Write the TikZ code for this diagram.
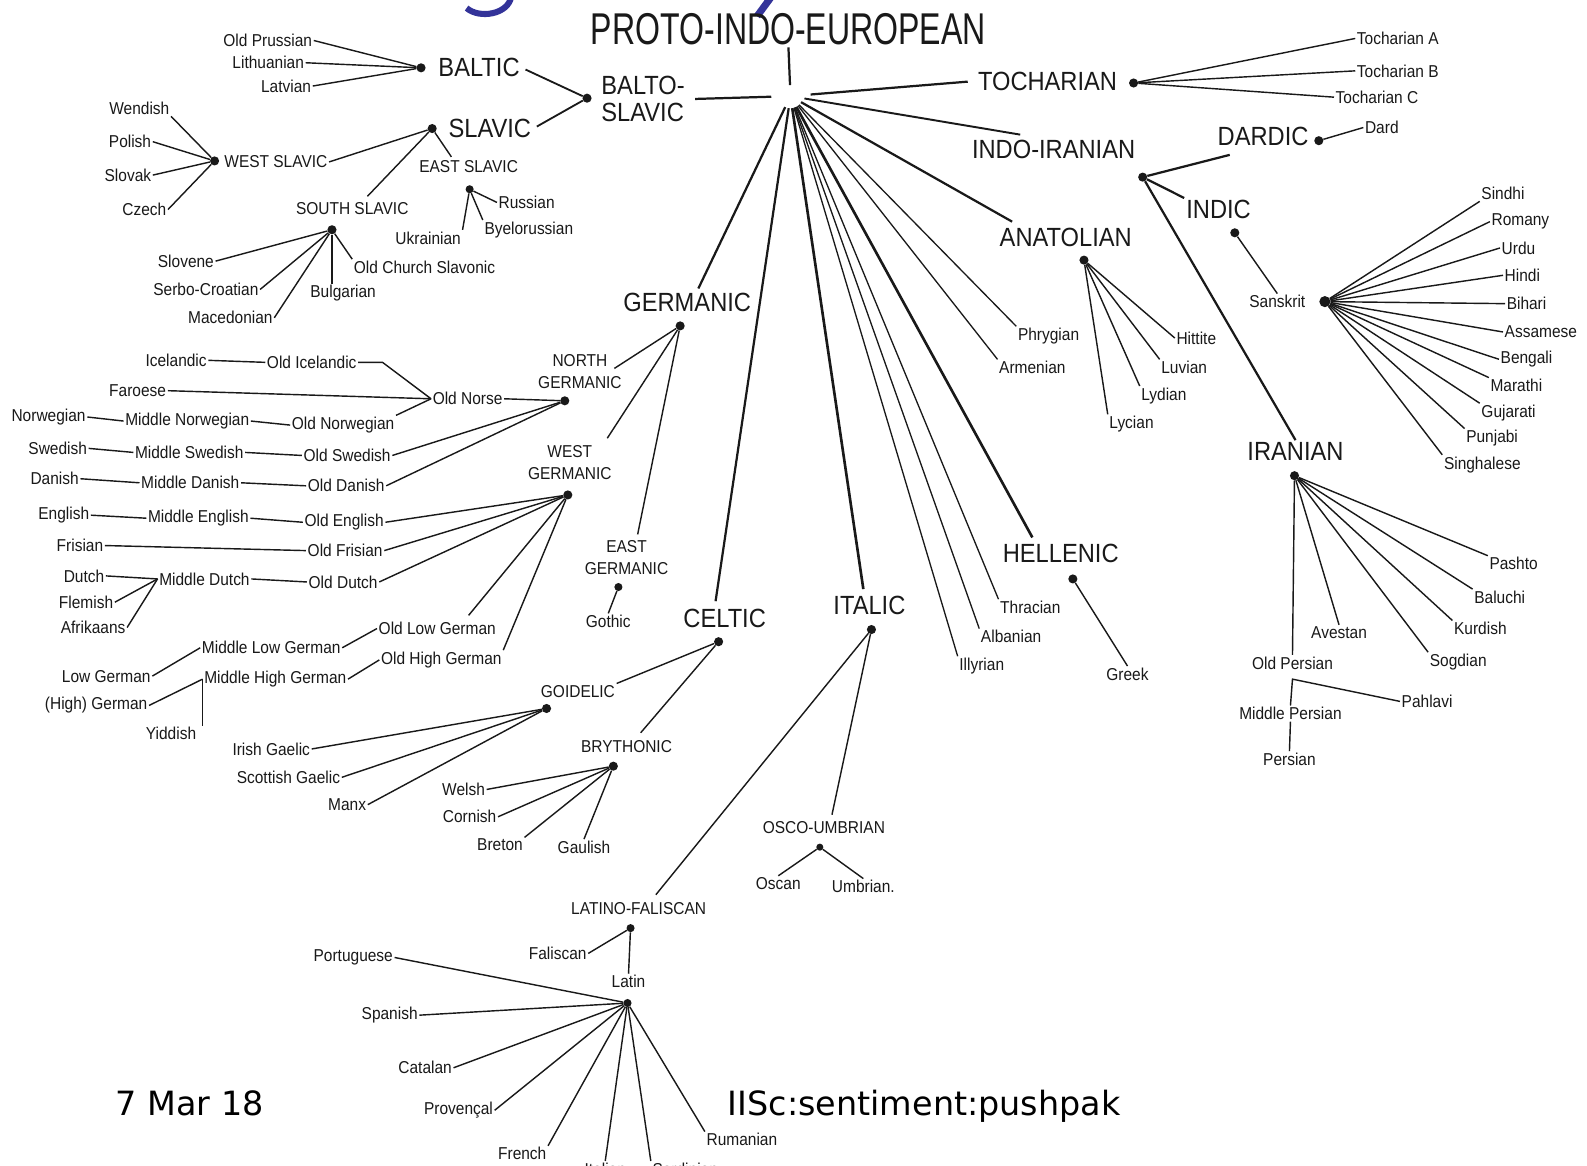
\documentclass[tikz,border=0pt]{standalone}
\usepackage{fontspec}
\newfontfamily\labfont[FakeStretch=0.9]{Liberation Sans}
\newfontfamily\piefont[FakeStretch=0.72]{Liberation Sans}
\newfontfamily\footfont{DejaVu Sans}
\usetikzlibrary{calc}
\definecolor{titleblue}{RGB}{51,51,153}
\definecolor{ink}{RGB}{25,25,25}
\tikzset{
 lab/.style={font=\labfont\fontsize{17}{21}\selectfont, inner sep=1.5pt, text=ink, align=center},
 big/.style={font=\labfont\fontsize{26}{27}\selectfont, inner sep=2pt, text=ink, align=left},
 piestyle/.style={font=\piefont\fontsize{44}{44}\selectfont, inner sep=2pt, text=ink},
 footstyle/.style={font=\footfont\fontsize{33}{33}\selectfont, inner sep=0pt, text=black},
 dot/.style={circle, fill=ink, inner sep=0pt, minimum size=9pt},
 edge/.style={draw=ink, line width=1.4pt},
 spoke/.style={draw=ink, line width=2.2pt},
 minor/.style={draw=ink, line width=1.3pt},
}
\begin{document}
\begin{tikzpicture}[x=1pt,y=-1pt]
\useasboundingbox (0,0) rectangle (1568,1152);
\fill[white] (0,0) rectangle (1568,1152);

% fragments of the slide title
\draw[titleblue, line width=6pt] (505,-3) .. controls (502,14) and (474,19) .. (461,8);
\draw[titleblue, line width=7pt] (762,-3) -- (748,16);

% ---------- root ----------
\node[piestyle] (pie) at (779,29) {PROTO-INDO-EUROPEAN};
\coordinate (C) at (781,95);
\draw[spoke, shorten >=11pt] (pie.south) -- (C);

% ---------- Balto-Slavic ----------
\node[big, anchor=west] (baltoL) at (592,98) {BALTO-\\SLAVIC};
\draw[spoke, shorten <=8pt, shorten >=19pt] (baltoL.east) -- (C);
\node[dot] (balto) at (580,97) {};
\node[big, anchor=west] (balticL) at (431,67) {BALTIC};
\node[dot] (baltic) at (416,67) {};
\node[big, anchor=west] (slavicL) at (441,127) {SLAVIC};
\node[dot] (slavic) at (427,127) {};
\draw[edge, line width=1.8pt, shorten <=4pt] (balticL.east) -- (balto);
\draw[edge, line width=1.8pt, shorten <=4pt] (slavicL.east) -- (balto);

\node[lab, anchor=east] (oprus) at (310,40) {Old Prussian};
\node[lab, anchor=east] (lith) at (302,62) {Lithuanian};
\node[lab, anchor=east] (latv) at (309,85) {Latvian};
\draw[edge] (oprus.east) -- (baltic);
\draw[edge] (lith.east) -- (baltic);
\draw[edge] (latv.east) -- (baltic);

\node[dot] (wslav) at (212,159) {};
\node[lab, anchor=west] (wslavL) at (220,160) {WEST SLAVIC};
\draw[edge] (wslavL.east) -- (slavic);
\node[lab, anchor=east] (wendish) at (169,107) {Wendish};
\node[lab, anchor=east] (polish) at (151,140) {Polish};
\node[lab, anchor=east] (slovak) at (151,173) {Slovak};
\node[lab, anchor=east] (czech) at (166,207) {Czech};
\draw[edge] (wendish.south east) -- (wslav);
\draw[edge] (polish.east) -- (wslav);
\draw[edge] (slovak.east) -- (wslav);
\draw[edge] (czech.east) -- (wslav);

\node[lab] (eslavL) at (463,165) {EAST SLAVIC};
\coordinate (esTop) at (446,155);
\draw[edge] (slavic) -- (esTop);
\node[dot, minimum size=8pt] (eslav) at (464,187) {};
\node[lab, anchor=west] (russian) at (491,200) {Russian};
\node[lab] (ukrainian) at (423,235) {Ukrainian};
\node[lab, anchor=west] (byelo) at (477,227) {Byelorussian};
\draw[edge] (russian.west) -- (eslav);
\draw[edge] (ukrainian.north east) -- (eslav);
\draw[edge] (byelo.north west) -- (eslav);

\node[lab] (sslavL) at (348,206) {SOUTH SLAVIC};
\coordinate (ssTop) at (363,194);
\draw[edge] (slavic) -- (ssTop);
\node[dot] (sslav) at (328,227) {};
\node[lab, anchor=east] (slovene) at (213,258) {Slovene};
\node[lab, anchor=east] (serbo) at (257,286) {Serbo-Croatian};
\node[lab, anchor=east] (maced) at (271,314) {Macedonian};
\node[lab, anchor=west] (bulgarian) at (305,290) {Bulgarian};
\node[lab, anchor=west] (ocs) at (348,264) {Old Church Slavonic};
\draw[edge] (slovene.east) -- (sslav);
\draw[edge] (serbo.east) -- (sslav);
\draw[edge] (maced.east) -- (sslav);
\draw[edge] (sslav) -- (sslav |- bulgarian.north);
\draw[edge] (ocs.north west) -- (sslav);

% ---------- Germanic ----------
\coordinate (gTop) at (690,285);
\draw[spoke, shorten <=12pt] (C) -- (gTop);
\node[big] (germL) at (679,299) {GERMANIC};
\node[dot] (germ) at (672,322) {};
\node[lab] (ngL) at (573,367) {NORTH\\GERMANIC};
\coordinate (ngTop) at (607,364);
\draw[edge] (ngTop) -- (germ);
\node[dot] (ng) at (558,396) {};
\node[lab] (wgL) at (563,457) {WEST\\GERMANIC};
\coordinate (wgTop) at (600,433);
\draw[edge] (wgTop) -- (germ);
\node[dot] (wg) at (561,489) {};
\node[lab] (egL) at (619,551) {EAST\\GERMANIC};
\coordinate (egTop) at (630,528);
\draw[edge] (egTop) -- (germ);
\node[dot, minimum size=8pt] (eg) at (611,580) {};
\node[lab] (gothic) at (601,614) {Gothic};
\draw[edge] (gothic.north) -- (eg);

\node[lab] (icelandic) at (174,356) {Icelandic};
\node[lab] (oldicel) at (308,358) {Old Icelandic};
\node[lab] (oldnorse) at (462,394) {Old Norse};
\draw[edge] (icelandic.east) -- (oldicel.west);
\draw[edge] (oldicel.east) -- ++(24,0) -- (oldnorse.west);
\node[lab] (faroese) at (136,386) {Faroese};
\draw[edge] (faroese.east) -- (oldnorse.west);
\node[lab] (norwegian) at (48,412) {Norwegian};
\node[lab] (midnorw) at (185,416) {Middle Norwegian};
\node[lab] (oldnorw) at (339,420) {Old Norwegian};
\draw[edge] (norwegian.east) -- (midnorw.west);
\draw[edge] (midnorw.east) -- (oldnorw.west);
\draw[edge] (oldnorw.north east) -- (oldnorse.west);
\draw[edge] (oldnorse.east) -- (ng);
\node[lab] (swedish) at (57,443) {Swedish};
\node[lab] (midswed) at (187,447) {Middle Swedish};
\node[lab] (oldswed) at (343,450) {Old Swedish};
\draw[edge] (swedish.east) -- (midswed.west);
\draw[edge] (midswed.east) -- (oldswed.west);
\draw[edge] (oldswed.east) -- (ng);
\node[lab] (danish) at (54,473) {Danish};
\node[lab] (middan) at (188,477) {Middle Danish};
\node[lab] (olddan) at (342,480) {Old Danish};
\draw[edge] (danish.east) -- (middan.west);
\draw[edge] (middan.east) -- (olddan.west);
\draw[edge] (olddan.east) -- (ng);

\node[lab] (english) at (63,509) {English};
\node[lab] (midengl) at (196,512) {Middle English};
\node[lab] (oldengl) at (340,516) {Old English};
\draw[edge] (english.east) -- (midengl.west);
\draw[edge] (midengl.east) -- (oldengl.west);
\draw[edge] (oldengl.east) -- (wg);
\node[lab] (frisian) at (79,539) {Frisian};
\node[lab] (oldfris) at (341,544) {Old Frisian};
\draw[edge] (frisian.east) -- (oldfris.west);
\draw[edge] (oldfris.east) -- (wg);
\node[lab] (dutch) at (83,569) {Dutch};
\node[lab] (middutch) at (202,572) {Middle Dutch};
\node[lab] (olddutch) at (339,575) {Old Dutch};
\node[lab] (flemish) at (85,595) {Flemish};
\node[lab] (afrikaans) at (92,620) {Afrikaans};
\draw[edge] (dutch.east) -- (middutch.west);
\draw[edge] (flemish.east) -- (middutch.west);
\draw[edge] (afrikaans.east) -- (middutch.west);
\draw[edge] (middutch.east) -- (olddutch.west);
\draw[edge] (olddutch.east) -- (wg);

\node[lab] (oldlowg) at (432,621) {Old Low German};
\node[lab] (oldhighg) at (436,652) {Old High German};
\node[lab] (midlowg) at (268,640) {Middle Low German};
\node[lab] (midhighg) at (272,671) {Middle High German};
\node[lab] (lowg) at (105,668) {Low German};
\node[lab] (highg) at (95,697) {(High) German};
\node[lab] (yiddish) at (169,725) {Yiddish};
\coordinate (olgTop) at (463,608);
\draw[edge] (wg) -- (olgTop);
\draw[edge] (wg) -- (oldhighg.north east);
\draw[edge] (midlowg.east) -- (oldlowg.west);
\draw[edge] (midhighg.east) -- (oldhighg.west);
\draw[edge] (lowg.east) -- (midlowg.west);
\draw[edge] (highg.east) -- (midhighg.west);
\draw[edge] (midhighg.west) -- (midhighg.west |- yiddish.north);

% ---------- Celtic ----------
\coordinate (cTop) at (707,594);
\draw[spoke, shorten <=12pt] (C) -- (cTop);
\node[big] (celticL) at (716,611) {CELTIC};
\node[dot] (celt) at (710,634) {};
\node[lab] (goidL) at (571,683) {GOIDELIC};
\draw[edge] (goidL.north east) -- (celt);
\node[dot] (goid) at (540,700) {};
\node[lab] (irish) at (268,740) {Irish Gaelic};
\node[lab] (scottish) at (285,768) {Scottish Gaelic};
\node[lab] (manx) at (343,795) {Manx};
\draw[edge] (irish.east) -- (goid);
\draw[edge] (scottish.east) -- (goid);
\draw[edge] (manx.east) -- (goid);
\node[lab] (brythL) at (619,738) {BRYTHONIC};
\coordinate (bTop) at (633,724);
\draw[edge] (bTop) -- (celt);
\node[dot] (bryth) at (606,757) {};
\node[lab] (welsh) at (458,780) {Welsh};
\node[lab] (cornish) at (464,807) {Cornish};
\node[lab] (breton) at (494,835) {Breton};
\node[lab] (gaulish) at (577,837) {Gaulish};
\draw[edge] (welsh.east) -- (bryth);
\draw[edge] (cornish.east) -- (bryth);
\draw[edge] (breton.north east) -- (bryth);
\draw[edge] (gaulish.north) -- (bryth);

% ---------- Italic ----------
\coordinate (iTop) at (853,582);
\draw[spoke, line width=2.6pt, shorten <=12pt] (C) -- (iTop);
\node[big] (italicL) at (859,598) {ITALIC};
\node[dot] (ital) at (861,622) {};
\node[lab] (lfL) at (631,898) {LATINO-FALISCAN};
\coordinate (lfTop) at (648,884);
\draw[edge] (ital) -- (lfTop);
\node[dot, minimum size=8pt] (lf) at (623,917) {};
\node[lab] (faliscan) at (551,942) {Faliscan};
\draw[edge] (faliscan.east) -- (lf);
\node[lab] (latinL) at (621,970) {Latin};
\draw[edge] (lf) -- (latinL.north);
\node[dot, minimum size=8pt] (latin) at (620,991) {};
\node[lab] (portuguese) at (349,946) {Portuguese};
\node[lab] (spanish) at (385,1003) {Spanish};
\node[lab] (catalan) at (420,1055) {Catalan};
\node[lab] (provencal) at (453,1097) {Provençal};
\node[lab] (french) at (516,1140) {French};
\node[lab] (italian) at (598,1155) {Italian};
\node[lab, anchor=west] (sardinian) at (643,1155) {Sardinian};
\node[lab] (rumanian) at (733,1126) {Rumanian};
\draw[edge] (portuguese.east) -- (latin);
\draw[edge] (spanish.east) -- (latin);
\draw[edge] (catalan.east) -- (latin);
\draw[edge] (provencal.east) -- (latin);
\draw[edge] (french.north east) -- (latin);
\draw[edge] (italian.north) -- (latin);
\draw[edge] (sardinian.north west) -- (latin);
\draw[edge] (rumanian.north west) -- (latin);
\node[lab] (ouL) at (814,818) {OSCO-UMBRIAN};
\coordinate (ouTop) at (822,805);
\draw[edge] (ital) -- (ouTop);
\node[dot, minimum size=7pt] (ou) at (810,837) {};
\node[lab] (oscan) at (769,873) {Oscan};
\node[lab] (umbrian) at (853,876) {Umbrian.};
\draw[edge] (oscan.north) -- (ou);
\draw[edge] (umbrian.north) -- (ou);

% ---------- Tocharian ----------
\node[big] (tochL) at (1035,80) {TOCHARIAN};
\draw[spoke, shorten <=20pt, shorten >=8pt] (C) -- (tochL.west);
\node[dot] (toch) at (1120,82) {};
\node[lab, anchor=west] (tochA) at (1339,38) {Tocharian A};
\node[lab, anchor=west] (tochB) at (1339,70) {Tocharian B};
\node[lab, anchor=west] (tochC) at (1318,96) {Tocharian C};
\draw[edge] (toch) -- (tochA.west);
\draw[edge] (toch) -- (tochB.west);
\draw[edge] (toch) -- (tochC.west);

% ---------- Indo-Iranian ----------
\node[big] (iiL) at (1041,148) {INDO-IRANIAN};
\coordinate (iiTop) at (1008,133);
\draw[spoke, line width=1.9pt, shorten <=14pt] (C) -- (iiTop);
\node[dot] (ii) at (1129,175) {};
\node[big] (dardicL) at (1248,135) {DARDIC};
\coordinate (dTop) at (1215,153);
\draw[spoke] (ii) -- (dTop);
\node[dot] (dardic) at (1303,139) {};
\node[lab, anchor=west] (dard) at (1347,126) {Dard};
\draw[edge] (dardic) -- (dard.west);
\node[big] (indicL) at (1204,207) {INDIC};
\draw[spoke] (ii) -- (indicL.north west);
\node[dot] (indic) at (1220,230) {};
\node[lab] (sanskrit) at (1262,298) {Sanskrit};
\draw[edge] (indic) -- (sanskrit.north);
\node[dot, minimum size=11pt] (skt) at (1309,298) {};
\node[lab, anchor=west] (sindhi) at (1462,191) {Sindhi};
\node[lab, anchor=west] (romany) at (1472,219) {Romany};
\node[lab, anchor=west] (urdu) at (1482,245) {Urdu};
\node[lab, anchor=west] (hindi) at (1485,272) {Hindi};
\node[lab, anchor=west] (bihari) at (1487,300) {Bihari};
\node[lab, anchor=west] (assamese) at (1485,328) {Assamese};
\node[lab, anchor=west] (bengali) at (1481,355) {Bengali};
\node[lab, anchor=west] (marathi) at (1471,381) {Marathi};
\node[lab, anchor=west] (gujarati) at (1462,408) {Gujarati};
\node[lab, anchor=west] (punjabi) at (1447,433) {Punjabi};
\node[lab, anchor=west] (singhalese) at (1425,459) {Singhalese};
\draw[edge] (skt) -- (sindhi.south west);
\draw[edge] (skt) -- (romany.west);
\draw[edge] (skt) -- (urdu.west);
\draw[edge] (skt) -- (hindi.west);
\draw[edge] (skt) -- (bihari.west);
\draw[edge] (skt) -- (assamese.west);
\draw[edge] (skt) -- (bengali.west);
\draw[edge] (skt) -- (marathi.north west);
\draw[edge] (skt) -- (gujarati.north west);
\draw[edge] (skt) -- (punjabi.north west);
\draw[edge] (skt) -- (singhalese.north west);

\node[big] (iranL) at (1280,446) {IRANIAN};
\draw[spoke] (ii) -- (iranL.north);
\node[dot] (iran) at (1279,470) {};
\node[lab, anchor=west] (pashto) at (1470,557) {Pashto};
\node[lab, anchor=west] (baluchi) at (1455,590) {Baluchi};
\node[lab, anchor=west] (kurdish) at (1435,621) {Kurdish};
\node[lab, anchor=west] (sogdian) at (1411,654) {Sogdian};
\node[lab] (avestan) at (1323,625) {Avestan};
\node[lab] (oldpersian) at (1277,655) {Old Persian};
\node[lab] (midpersian) at (1275,705) {Middle Persian};
\node[lab] (pahlavi) at (1410,693) {Pahlavi};
\node[lab] (persian) at (1274,750) {Persian};
\draw[edge] (iran) -- (pashto.north west);
\draw[edge] (iran) -- (baluchi.north west);
\draw[edge] (iran) -- (kurdish.north west);
\draw[edge] (iran) -- (sogdian.north west);
\draw[edge] (iran) -- (avestan.north);
\draw[edge] (iran) -- (oldpersian.north);
\coordinate (opJ) at (1277,671);
\draw[edge] (midpersian.north) -- (opJ) -- (pahlavi.west);
\draw[edge] (midpersian.south) -- (persian.north);

% ---------- Anatolian ----------
\node[big] (anatL) at (1053,235) {ANATOLIAN};
\coordinate (aTop) at (1000,219);
\draw[spoke, shorten <=12pt] (C) -- (aTop);
\node[dot] (anat) at (1071,257) {};
\node[lab] (hittite) at (1182,334) {Hittite};
\node[lab] (luvian) at (1170,363) {Luvian};
\node[lab] (lydian) at (1150,391) {Lydian};
\node[lab] (lycian) at (1118,419) {Lycian};
\draw[edge] (anat) -- (hittite.west);
\draw[edge] (anat) -- (luvian.north west);
\draw[edge] (anat) -- (lydian.north west);
\draw[edge] (anat) -- (lycian.north west);

% ---------- single-language branches ----------
\node[lab] (phrygian) at (1036,332) {Phrygian};
\node[lab] (armenian) at (1020,363) {Armenian};
\node[lab] (thracian) at (1018,600) {Thracian};
\node[lab] (albanian) at (999,629) {Albanian};
\node[lab] (illyrian) at (970,658) {Illyrian};
\draw[minor, shorten <=12pt] (C) -- (phrygian.north west);
\draw[minor, shorten <=12pt] (C) -- (armenian.north west);
\draw[minor, shorten <=12pt] (C) -- (thracian.north west);
\draw[minor, shorten <=12pt] (C) -- (albanian.north west);
\draw[minor, shorten <=12pt] (C) -- (illyrian.north west);

% ---------- Hellenic ----------
\node[big] (hellL) at (1048,547) {HELLENIC};
\coordinate (hTop) at (1020,531);
\draw[spoke, line width=2.6pt, shorten <=12pt] (C) -- (hTop);
\node[dot] (hell) at (1060,572) {};
\node[lab] (greek) at (1114,666) {Greek};
\draw[edge] (hell) -- (greek.north);

% ---------- footer ----------
\node[footstyle, anchor=base west] (date) at (114,1102) {7 Mar 18};
\node[footstyle, anchor=base west] (footer) at (719,1102) {IISc:sentiment:pushpak};
\end{tikzpicture}
\end{document}
